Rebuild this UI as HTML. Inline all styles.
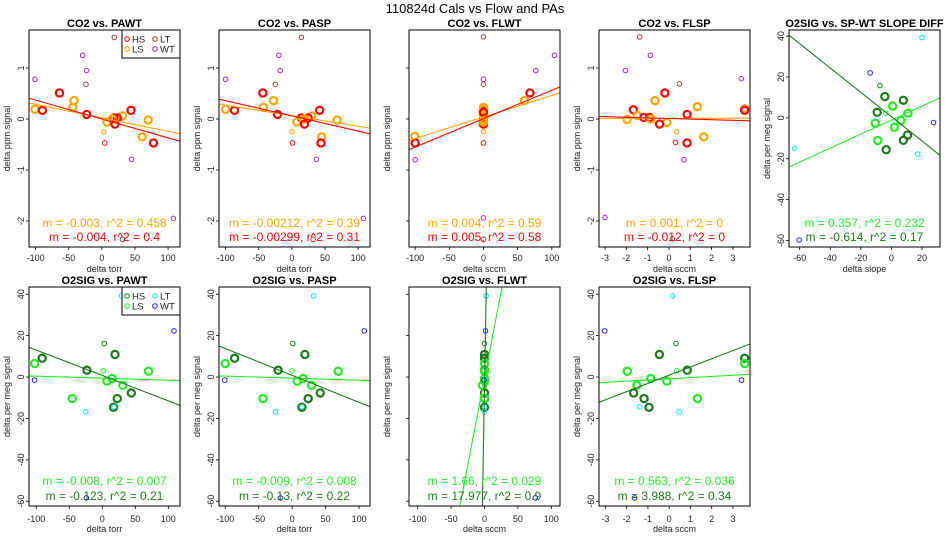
<!DOCTYPE html>
<html><head><meta charset="utf-8"><style>
html,body{margin:0;padding:0;background:#fff;width:950px;height:550px;overflow:hidden}
svg{display:block;font-family:"Liberation Sans",Arial,sans-serif}
</style></head><body>
<svg id="c" width="950" height="550" viewBox="0 0 950 550">
<text x="475" y="13" text-anchor="middle" font-size="13">110824d   Cals vs Flow and PAs</text>
</svg>
<script>
// ---- data ----
const p1x=[-101,18.8,-29,-23,-24,-64,-42,-44,-101,-89.8,-22.8,44,31,23.3,18,15.4,7.8,19.8,70,2.9,4.2,61,78,45,108,31];
const p1y=[0.78,1.6,1.25,0.95,0.68,0.51,0.36,0.23,0.19,0.17,0.09,0.17,0.06,0.02,0.02,0,-0.06,-0.1,-0.02,-0.25,-0.47,-0.35,-0.47,-0.79,-1.95,-2.36];
const p1g=['WT','LT','WT','WT','LT','HS','LS','LS','LS','HS','HS','HS','LS','HS','HS','LS','LS','HS','LS','LS','HS','LS','HS','WT','WT','LT'];
const p1s=[0,0,0,0,0,1,1,1,1,1,1,1,1,1,1,1,1,1,1,0,0,1,1,0,0,0];
const p2x=[-100,14.5,-19.5,-17.5,-25,-43.8,-27.7,-43,-100,-86.6,-21.6,42,29.8,24.6,14.5,18,7.5,19,68.4,0,1,45,44,37,108,32];
const p2y=p1y, p2g=p1g, p2s=p1s;
const p3x=[0,104,76.5,0,0,68,60,-100.5,-100,-100,0,0,0,0,0,0,0,0,0,0,0,0,0,0,0,0];
const p3y=[1.61,1.25,0.95,0.78,0.68,0.51,0.36,-0.34,-0.47,-0.8,0.17,0.09,0.02,0.02,-0.1,0.23,0.19,0.06,0,-0.02,-0.06,-0.25,-0.47,-1.94,-2.36,0.13];
const p3g=['LT','WT','WT','WT','LT','HS','LS','LS','HS','WT','HS','HS','HS','HS','HS','LS','LS','LS','LS','LS','LS','LS','HS','WT','LT','HS'];
const p3s=[0,0,0,0,0,1,1,1,1,0,1,1,1,1,1,1,1,1,1,1,1,0,0,0,0,1];
const p4x=[-1.37,-0.87,-2.04,3.39,0.49,-0.19,-0.65,1.33,-1.67,3.55,3.55,0.85,-1.49,-1.18,-0.91,-0.85,-1.96,-0.1,-0.44,0.36,0.31,1.63,0.85,0.7,-3,0.16];
const p4y=[1.61,1.25,0.95,0.79,0.69,0.51,0.36,0.24,0.18,0.2,0.17,0.09,0.07,0.03,0.03,0,-0.01,-0.07,-0.1,-0.25,-0.46,-0.35,-0.47,-0.8,-1.93,-2.35];
const p4g=['LT','WT','WT','WT','LT','HS','LS','LS','HS','LS','HS','HS','LS','HS','HS','LS','LS','LS','HS','LS','HS','LS','HS','WT','WT','LT'];
const p4s=[0,0,0,0,0,1,1,1,1,1,1,1,1,1,1,1,1,1,1,0,0,1,1,0,0,0];
const p5x=[20,-13.9,-7.5,-4.3,7.8,0.8,-9.3,10.8,-3.6,-10.6,6.2,27.6,2,10.6,7.8,-8.9,-3.4,-63.3,17.2,-60.4];
const p5y=[39.3,22,15.8,10.4,8.6,5.8,2.7,2.3,2.4,-2.6,-1.3,-2.3,-4.6,-8.4,-11,-11.1,-15.6,-14.9,-17.7,-59.8];
const p5g=['LT','WT','HS','HS','HS','LS','HS','LS','LS','LS','LS','WT','LS','HS','HS','LS','HS','LT','LT','WT'];
const p5s=[0,0,0,1,1,1,1,1,0,1,1,0,1,1,1,1,1,0,0,0];
const p6x=[29,108.6,3,19.2,-91,-102.5,-23.2,1.5,70,15,7,-102.5,31,44,22.7,-45.5,17,17.7,-25,-24.2];
const p6y=[39.2,22.3,16.2,10.9,9.1,6.5,3.3,3,2.8,-0.7,-2,-1.5,-4,-7.7,-10.4,-10.4,-14.6,-14.4,-16.8,-58.4];
const p6g=['LT','WT','HS','HS','HS','LS','HS','LS','LS','LS','LS','WT','LS','HS','HS','LS','HS','LT','LT','WT'];
const p6s=[0,0,0,1,1,1,1,0,1,1,1,0,1,1,1,1,1,0,0,0];
const p7x=[32,107.8,1,19,-86,-100,-21,0,68.7,16.5,7.5,-100.7,29,42,24,-43.6,14.5,14.5,-25,-17.5];
const p7y=p6y, p7g=p6g, p7s=p6s;
const p8x=[2.5,1.5,0,0,0,0,0,0,0,0,0,-3,0,0,-1,0,0,76,0,0];
const p8y=[39.2,22.3,16.2,10.9,9.1,6.5,3.3,3,2.8,-0.7,-2,-4,-7.7,-10.4,-1.5,-14.6,-14.4,-58.4,-16.8,-10.4];
const p8g=['LT','WT','HS','HS','HS','LS','HS','LS','LS','LS','LS','LS','HS','HS','WT','HS','LT','WT','LT','LS'];
const p8s=[0,0,0,1,1,1,1,0,1,1,1,1,1,1,0,1,0,0,0,1];
const p9x=[0.16,-3.03,0.32,-0.46,3.55,3.55,0.85,0.35,-1.97,-0.87,-0.11,3.4,-1.52,-1.67,-1.18,1.33,-0.95,-1.39,0.47,-1.63];
const p9y=p6y, p9g=p6g, p9s=p6s;
// fit lines: [slope, intercept]
const fitHS=[[-0.0037,0.0],[-0.00298,0.061],[0.00557,0.007],[-0.012,0.01],[-0.595,0.6],[-0.1227,0.78],[-0.13,0.8],[17.977,-5],[3.97,0.9]];
const fitLS=[[-0.00264,0.022],[-0.00207,0.065],[0.00421,0.039],[0.001,0.012],[0.342,-1.1],[-0.0098,-0.54],[-0.01,-0.54],[1.68,-0.5],[0.57,-0.83]];
const statLS=['m = -0.003, r^2 = 0.458','m = -0.00212, r^2 = 0.39','m = 0.004, r^2 = 0.59','m = 0.001, r^2 = 0','m = 0.357, r^2 = 0.232','m = -0.008, r^2 = 0.007','m = -0.009, r^2 = 0.008','m = 1.66, r^2 = 0.029','m = 0.563, r^2 = 0.036'];
const statHS=['m = -0.004, r^2 = 0.4','m = -0.00299, r^2 = 0.31','m = 0.005, r^2 = 0.58','m = -0.012, r^2 = 0','m = -0.614, r^2 = 0.17','m = -0.123, r^2 = 0.21','m = -0.13, r^2 = 0.22','m = 17.977, r^2 = 0.9','m = 3.988, r^2 = 0.34'];
const titles=['CO2 vs. PAWT','CO2 vs. PASP','CO2 vs. FLWT','CO2 vs. FLSP','O2SIG vs. SP-WT SLOPE DIFF','O2SIG vs. PAWT','O2SIG vs. PASP','O2SIG vs. FLWT','O2SIG vs. FLSP'];
const xTitles=['delta torr','delta torr','delta sccm','delta sccm','delta slope','delta torr','delta torr','delta sccm','delta sccm'];
const torrTicks=[-100,-50,0,50,100], flspTicks=[-3,-2,-1,0,1,2,3], slopeTicks=[-60,-40,-20,0,20];
const co2Ticks=[-2,-1,0,1], o2Ticks=[-60,-40,-20,0,20,40];

const NS='http://www.w3.org/2000/svg';
const svg=document.getElementById('c');
function mk(tag,attrs,parent,txt){const e=document.createElementNS(NS,tag);for(const k in attrs)e.setAttribute(k,attrs[k]);if(txt!==undefined)e.textContent=txt;(parent||svg).appendChild(e);return e;}
const co2Col={HS:'#ff0000',LS:'#ffa500',LT:'#b03a3a',WT:'#a020f0'};
const o2Col={HS:'#1c7a1c',LS:'#22ee22',LT:'#00f0f0',WT:'#2020ff'};
const panels=[
 {L:29,T:30,B:247,xl:[-110,118],yl:[-2.51,1.745],xt:torrTicks,yt:co2Ticks,d:[p1x,p1y,p1g,p1s],o2:0,legend:1,ylab:1,ytitle:'delta ppm signal'},
 {L:219,T:30,B:247,xl:[-110,118],yl:[-2.51,1.745],xt:torrTicks,yt:co2Ticks,d:[p2x,p2y,p2g,p2s],o2:0,ylab:1,ytitle:'delta ppm signal'},
 {L:409,T:30,B:247,xl:[-109,112],yl:[-2.51,1.745],xt:torrTicks,yt:co2Ticks,d:[p3x,p3y,p3g,p3s],o2:0,ylab:0,ytitle:'delta ppm signal'},
 {L:599,T:30,B:247,xl:[-3.28,3.8],yl:[-2.51,1.745],xt:flspTicks,yt:co2Ticks,d:[p4x,p4y,p4g,p4s],o2:0,ylab:1,ytitle:'delta ppm signal'},
 {L:789,T:30,B:247,xl:[-67,31.8],yl:[-63.2,43],xt:slopeTicks,yt:o2Ticks,d:[p5x,p5y,p5g,p5s],o2:1,ylab:1,ytitle:'delta per meg signal'},
 {L:29,T:287,B:506,xl:[-111,117.7],yl:[-62.3,43.5],xt:torrTicks,yt:o2Ticks,d:[p6x,p6y,p6g,p6s],o2:1,legend:1,ylab:1,ytitle:'delta per meg signal'},
 {L:219,T:287,B:506,xl:[-109.3,116.3],yl:[-62.3,43.5],xt:torrTicks,yt:o2Ticks,d:[p7x,p7y,p7g,p7s],o2:1,ylab:1,ytitle:'delta per meg signal'},
 {L:409,T:287,B:506,xl:[-113,113],yl:[-62.3,43.5],xt:torrTicks,yt:o2Ticks,d:[p8x,p8y,p8g,p8s],o2:1,ylab:0,ytitle:'delta per meg signal'},
 {L:599,T:287,B:506,xl:[-3.3,3.8],yl:[-62.3,43.5],xt:flspTicks,yt:o2Ticks,d:[p9x,p9y,p9g,p9s],o2:1,ylab:1,ytitle:'delta per meg signal'}
];
panels.forEach((p,i)=>{
  const W=151,R=p.L+W;
  const g=mk('g',{});
  
  
  const sx=v=>p.L+(v-p.xl[0])/(p.xl[1]-p.xl[0])*W;
  const sy=v=>p.B-(v-p.yl[0])/(p.yl[1]-p.yl[0])*(p.B-p.T);
  const cols=p.o2?o2Col:co2Col;
  const clipId='clip'+i;
  const cp=mk('clipPath',{id:clipId},g);mk('rect',{x:p.L,y:p.T,width:W,height:p.B-p.T},cp);
  const t=mk('text',{x:p.L+W/2,y:p.T-3,'text-anchor':'middle','font-size':'11','font-weight':'bold'},g,titles[i]);
  
  
  p.xt.forEach(v=>{const x=sx(v);mk('line',{x1:x,x2:x,y1:p.B,y2:p.B+3,stroke:'#000','stroke-width':0.8},g);
    const l=mk('text',{x:x,y:p.B+(i>4?16:14),'text-anchor':'middle','font-size':'9','fill':'#222'},g,String(v));
    
    });
  p.yt.forEach(v=>{const y=sy(v);mk('line',{x1:p.L,x2:p.L-3,y1:y,y2:y,stroke:'#000','stroke-width':0.8},g);
    if(p.ylab){const l=mk('text',{x:0,y:0,transform:`translate(${p.L-5},${y}) rotate(-90)`,'text-anchor':'middle','font-size':'9','fill':'#222'},g,String(v));
    
    }});
  const xt=mk('text',{x:p.L+W/2,y:i<5?272:532,'text-anchor':'middle','font-size':'9','fill':'#222'},g,xTitles[i]);
  
  
  const yt=mk('text',{x:0,y:0,transform:`translate(${p.L-19},${(p.T+p.B)/2}) rotate(-90)`,'text-anchor':'middle','font-size':'9','fill':'#222'},g,p.ytitle);
  
  
  const pg=mk('g',{'clip-path':`url(#${clipId})`},g);
  const [xs,ys,gs,ss]=p.d;
  xs.forEach((xv,k)=>{const big=ss[k];
    const c=mk('circle',{cx:sx(xv),cy:sy(ys[k]),r:big?3.6:2.3,fill:'none',stroke:cols[gs[k]],'stroke-width':big?2.2:1},pg);
    
    });
  [[fitLS[i],cols.LS,'fit-line-ls'],[fitHS[i],cols.HS,'fit-line-hs']].forEach(([f,col,nm])=>{
    const x0=p.xl[0],x1=p.xl[1];
    const ln=mk('line',{x1:sx(x0),y1:sy(f[0]*x0+f[1]),x2:sx(x1),y2:sy(f[0]*x1+f[1]),stroke:col,'stroke-width':1.1},pg);
    
    });
  const s1=mk('text',{x:p.L+W/2,y:i<5?227:485,'text-anchor':'middle','font-size':'12',fill:cols.LS},g,statLS[i]);
  
  
  const s2=mk('text',{x:p.L+W/2,y:i<5?241:500,'text-anchor':'middle','font-size':'12',fill:cols.HS},g,statHS[i]);
  
  
  mk('rect',{x:p.L,y:p.T,width:W,height:p.B-p.T,fill:'none',stroke:'#000','stroke-width':1},g);
  if(p.legend){
    const lg=mk('g',{},g);
    
    
    const top=p.T;
    mk('rect',{x:R-58,y:top,width:58,height:28,fill:'#fff',stroke:'#000','stroke-width':1},lg);
    [['HS',R-53,top+9],['LS',R-53,top+19],['LT',R-25,top+9],['WT',R-25,top+19]].forEach(([n,x,y])=>{
      const e=mk('g',{},lg);
      
      
      mk('circle',{cx:x,cy:y,r:2.3,fill:'none',stroke:cols[n],'stroke-width':1},e);
      mk('text',{x:x+5,y:y+3.5,'font-size':'9.5',fill:'#222'},e,n);});
  }
});
</script>
</body></html>
